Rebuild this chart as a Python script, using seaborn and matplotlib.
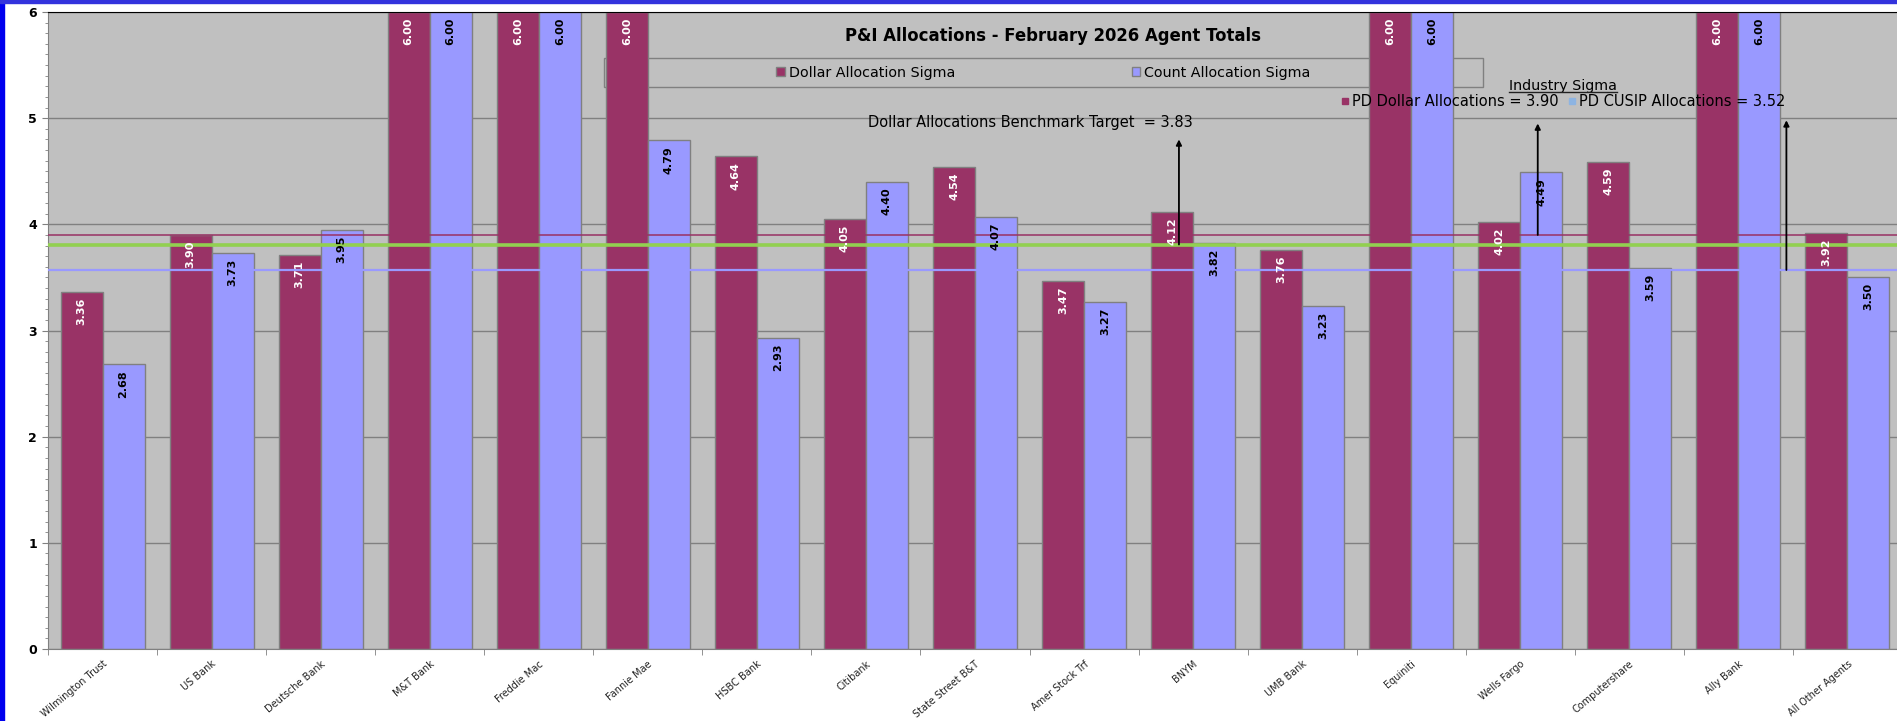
"""
plot.py

P&I Allocations - February 2026 Agent Totals (sigma by paying agent)
"""

#%%
# import libraries
import pandas as pd
import numpy as np
import matplotlib.pyplot as plt
import seaborn as sns
from matplotlib.patches import Rectangle
from matplotlib.lines import Line2D
from matplotlib.transforms import IdentityTransform

#%%
# Data

agents = ["Wilmington Trust", "US Bank", "Deutsche Bank", "M&T Bank", "Freddie Mac",
          "Fannie Mae", "HSBC Bank", "Citibank", "State Street B&T", "Amer Stock Trf",
          "BNYM", "UMB Bank", "Equiniti", "Wells Fargo", "Computershare",
          "Ally Bank", "All Other Agents"]

dollar_sigma = [3.36, 3.90, 3.71, 6.00, 6.00, 6.00, 4.64, 4.05, 4.54, 3.47,
                4.12, 3.76, 6.00, 4.02, 4.59, 6.00, 3.92]
count_sigma = [2.68, 3.73, 3.95, 6.00, 6.00, 4.79, 2.93, 4.40, 4.07, 3.27,
               3.82, 3.23, 6.00, 4.49, 3.59, 6.00, 3.50]

series_names = ["Dollar Allocation Sigma", "Count Allocation Sigma"]

# reference lines (levels as drawn) and the values quoted in the notes
industry_dollar_level = 3.90
benchmark_level = 3.81
industry_cusip_level = 3.57
industry_labels = ["PD Dollar Allocations = 3.90", "PD CUSIP Allocations = 3.52"]
benchmark_label = "Dollar Allocations Benchmark Target  = 3.83"

# arrows pointing from the lines up to the notes
arrow_x = [9.87, 13.16, 15.44]
arrow_bottom = [benchmark_level, industry_dollar_level, industry_cusip_level]
arrow_top = [4.80, 4.95, 4.98]

#%%
# colours
maroon = "#993366"
periwinkle = "#9999FF"
plot_gray = "#C0C0C0"
grid_gray = "#808080"
green = "#92D050"
cusip_blue = "#8DB4E2"

df = pd.DataFrame({
    "agent": agents * 2,
    "sigma": dollar_sigma + count_sigma,
    "series": [series_names[0]] * len(agents) + [series_names[1]] * len(agents),
})

plt.rcParams["font.family"] = ["DejaVu Sans"]

fig = plt.figure(figsize=(18.97, 7.21), dpi=100)
ax = fig.add_axes([48 / 1897, 1 - 649 / 721, 1854 / 1897, 637 / 721])
ax.set_facecolor(plot_gray)

# Grouped bars
sns.barplot(data=df, x="agent", y="sigma", hue="series", order=agents,
            hue_order=series_names, palette=[maroon, periwinkle], saturation=1,
            width=0.77, gap=0, edgecolor=grid_gray, linewidth=1, ax=ax, zorder=2)

# Value labels inside the top of each bar
for container, txt_color in zip(ax.containers, ["white", "black"]):
    for bar in container:
        h = bar.get_height()
        ax.annotate(f"{h:.2f}", (bar.get_x() + bar.get_width() / 2, h),
                    xytext=(0, -4), textcoords="offset points", rotation=90,
                    ha="center", va="top", fontsize=8, fontweight="bold",
                    color=txt_color, zorder=6)

# Axes limits and ticks
ax.set_xlim(-0.5, len(agents) - 0.5)
ax.set_ylim(0, 6)
ax.set_xlabel("")
ax.set_ylabel("")
ax.set_yticks(range(0, 7))
ax.set_yticks(np.arange(0, 6.01, 0.1), minor=True)
ax.set_xticks(np.arange(-0.5, len(agents), 1.0), minor=True)
ax.tick_params(axis="y", which="major", length=4, color=grid_gray, labelsize=9, pad=4)
ax.tick_params(axis="y", which="minor", length=2.2, color=grid_gray)
ax.tick_params(axis="x", which="major", length=0, pad=7)
ax.tick_params(axis="x", which="minor", length=4, color=grid_gray)
for lbl in ax.get_yticklabels():
    lbl.set_fontweight("bold")
ax.set_xticks(range(len(agents)))
ax.set_xticklabels(agents, rotation=40, ha="right", rotation_mode="anchor",
                   fontsize=7, color="#222222")

# Gridlines
ax.set_axisbelow(True)
ax.yaxis.grid(True, color=grid_gray, linewidth=1)
ax.xaxis.grid(False)

# Spines
for side in ["left", "bottom"]:
    ax.spines[side].set_color(grid_gray)
ax.spines["top"].set_color("black")
ax.spines["right"].set_visible(False)

# Reference lines
ax.axhline(industry_dollar_level, color=maroon, linewidth=1.4, alpha=0.8, zorder=4)
ax.axhline(benchmark_level, color=green, linewidth=2.6, zorder=4)
ax.axhline(industry_cusip_level, color=periwinkle, linewidth=1.6, zorder=4)

# Arrows
for x, y0, y1 in zip(arrow_x, arrow_bottom, arrow_top):
    ax.annotate("", xy=(x, y1), xytext=(x, y0),
                arrowprops=dict(arrowstyle="-|>", color="black", lw=1.3,
                                mutation_scale=8, shrinkA=0, shrinkB=0), zorder=5)

# Title
ax.text(0.542, 0.963, "P&I Allocations - February 2026 Agent Totals", transform=ax.transAxes,
        ha="center", va="center", fontsize=11.9, fontweight="bold", zorder=6)

# Series legend inside a box
ax.add_patch(Rectangle((0.2999, 0.882), 0.474, 0.046, transform=ax.transAxes,
                       fill=False, edgecolor=grid_gray, linewidth=1, zorder=1))
sns.move_legend(ax, "center", bbox_to_anchor=(0.537, 0.905), ncol=2, title=None,
                frameon=False, fontsize=10.3, handlelength=0.6, handleheight=0.6,
                handletextpad=0.3, columnspacing=12.3)
series_legend = ax.get_legend()
for handle in series_legend.legend_handles:
    handle.set_edgecolor(grid_gray)
ax.add_artist(series_legend)

# Benchmark note
ax.text(0.530, 0.826, benchmark_label, transform=ax.transAxes, ha="center",
        va="center", fontsize=10.5, zorder=6)

# Industry sigma note
industry_title = ax.text(0.817, 0.884, "Industry Sigma", transform=ax.transAxes,
                         ha="center", va="center", fontsize=10.3, zorder=6)
industry_handles = [Line2D([], [], marker="s", linestyle="", color=maroon, markersize=5),
                    Line2D([], [], marker="s", linestyle="", color=cusip_blue, markersize=5)]
industry_legend = ax.legend(industry_handles, industry_labels, loc="center",
                            bbox_to_anchor=(0.817, 0.859), ncol=2, frameon=False,
                            fontsize=10.5, handlelength=0.6, handletextpad=0.2,
                            columnspacing=0.6, borderpad=0)
industry_legend.set_zorder(6)

# Underline under "Industry Sigma"
fig.canvas.draw()
bb = industry_title.get_window_extent()
fig.add_artist(Line2D([bb.x0, bb.x1], [bb.y0 + 1, bb.y0 + 1], color="#222222",
                      linewidth=1, transform=IdentityTransform()))

# Blue frame along the left and top edges
fig.patches.append(Rectangle((0, 0), 4 / 1897, 1, transform=fig.transFigure,
                             color="#0000EE", zorder=10))
fig.patches.append(Rectangle((0, 1 - 3 / 721), 1, 3 / 721, transform=fig.transFigure,
                             color="#3333DD", zorder=10))

fig.savefig("out.png", dpi=100)
